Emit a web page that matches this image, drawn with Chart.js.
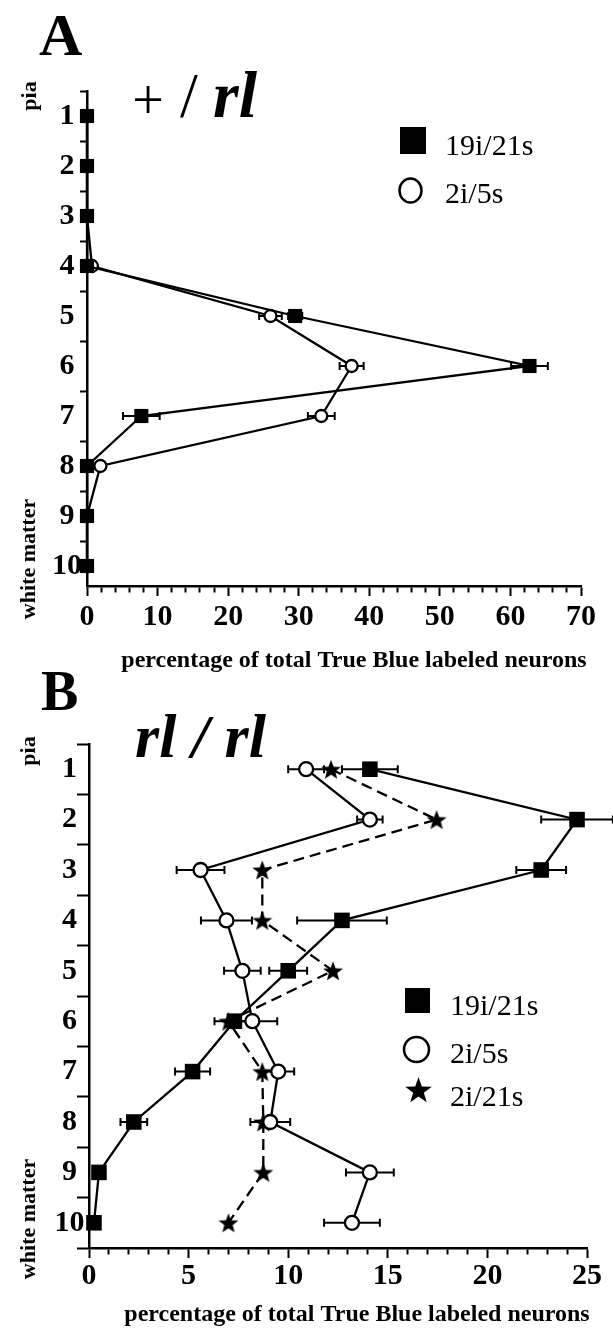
<!DOCTYPE html>
<html>
<head>
<meta charset="utf-8">
<script src="https://cdn.jsdelivr.net/npm/chart.js@4.4.1/dist/chart.umd.min.js"></script>
<style>
  html, body { margin: 0; padding: 0; background: #fff; }
  #wrap { position: relative; width: 613px; height: 1330px; overflow: hidden; }
  canvas { position: absolute; left: 0; }
  #chartA { top: 0; }
  #chartB { top: 660px; }
</style>
</head>
<body>
<div id="wrap">
  <canvas id="chartA" width="613" height="680"></canvas>
  <canvas id="chartB" width="613" height="670"></canvas>
</div>
<script>
// layers from pia (1) down to white matter (10)
const layers = [1, 2, 3, 4, 5, 6, 7, 8, 9, 10];

// panel A  (+/rl)
const aSquare = [0, 0, 0, 0, 29.5, 62.7, 7.7, 0, 0, 0];
const aSquareErr = [0, 0, 0, 0, 1.0, 2.6, 2.6, 0, 0, 0];
const aCircle = [0, 0, 0, 0.7, 26.0, 37.5, 33.2, 1.9, 0, 0];
const aCircleErr = [0, 0, 0, 0, 1.6, 1.7, 1.9, 0, 0, 0];

// panel B  (rl/rl)
const bSquare = [14.1, 24.5, 22.7, 12.7, 10.0, 7.3, 5.2, 2.25, 0.5, 0.25];
const bSquareErr = [1.4, 1.8, 1.25, 2.25, 0.95, 1.0, 0.88, 0.67, 0, 0];
const bCircle = [10.9, 14.1, 5.6, 6.9, 7.7, 8.2, 9.5, 9.1, 14.1, 13.2];
const bCircleErr = [0.9, 0.64, 1.2, 1.28, 0.92, 1.25, 0.8, 1.0, 1.2, 1.4];
const bStar = [12.15, 17.45, 8.7, 8.7, 12.25, 7.0, 8.7, 8.75, 8.75, 7.0];

const seriesNames = ['19i/21s', '2i/5s', '2i/21s'];
const xTitle = 'percentage of total True Blue labeled neurons';

const SERIF = "'Liberation Serif', 'Times New Roman', serif";
const tickFont = { family: SERIF, size: 30, weight: 'bold' };

const pts = (vals) => vals.map((v, i) => ({ x: v, y: layers[i] }));

function starPath(ctx, cx, cy, R, r) {
    ctx.beginPath();
    for (let i = 0; i < 10; i++) {
        const rad = i % 2 ? r : R;
        const a = -Math.PI / 2 + (i * Math.PI) / 5;
        ctx.lineTo(cx + rad * Math.cos(a), cy + rad * Math.sin(a));
    }
    ctx.closePath();
}

// filled five point star used as point style
const starImg = document.createElement('canvas');
starImg.width = 22;
starImg.height = 22;
{
    const c = starImg.getContext('2d');
    c.fillStyle = '#000';
    starPath(c, 11, 12, 10.5, 4.4);
    c.fill();
}

// horizontal error bars, drawn under the markers
const errorBars = {
    id: 'errorBars',
    beforeDatasetsDraw(chart) {
        const { ctx, scales: { x, y } } = chart;
        ctx.save();
        ctx.strokeStyle = '#000';
        ctx.lineWidth = 2;
        chart.data.datasets.forEach((ds) => {
            if (!ds.errors) return;
            ds.data.forEach((p, i) => {
                const e = ds.errors[i];
                if (!e) return;
                const x1 = x.getPixelForValue(p.x - e);
                const x2 = x.getPixelForValue(p.x + e);
                const py = y.getPixelForValue(p.y);
                ctx.beginPath();
                ctx.moveTo(x1, py); ctx.lineTo(x2, py);
                ctx.moveTo(x1, py - 4); ctx.lineTo(x1, py + 4);
                ctx.moveTo(x2, py - 4); ctx.lineTo(x2, py + 4);
                ctx.stroke();
            });
        });
        ctx.restore();
    },
};

// panel letters, genotype, side labels, legend and axis title
function decorPlugin(texts, keys) {
    return {
        id: 'decor',
        afterDraw(chart) {
            const ctx = chart.ctx;
            ctx.save();
            ctx.fillStyle = '#000';
            ctx.strokeStyle = '#000';
            texts.forEach((t) => {
                ctx.save();
                ctx.font = t.font;
                ctx.textAlign = t.align || 'left';
                ctx.textBaseline = t.baseline || 'alphabetic';
                ctx.translate(t.x, t.y);
                if (t.rotate) ctx.rotate(t.rotate);
                ctx.fillText(t.text, 0, 0);
                ctx.restore();
            });
            keys.forEach((k) => {
                if (k.kind === 'rect') {
                    ctx.fillRect(k.x - k.w / 2, k.y - k.h / 2, k.w, k.h);
                } else if (k.kind === 'circle') {
                    ctx.lineWidth = 2.5;
                    ctx.beginPath();
                    ctx.ellipse(k.x, k.y, k.w / 2, k.h / 2, 0, 0, Math.PI * 2);
                    ctx.stroke();
                } else {
                    starPath(ctx, k.x, k.y + 1, k.w / 2, k.w / 5);
                    ctx.fill();
                }
                ctx.font = '30px ' + SERIF;
                ctx.textAlign = 'left';
                ctx.textBaseline = 'alphabetic';
                ctx.fillText(k.label, k.tx, k.ty);
            });
            ctx.restore();
        },
    };
}

function makeChart(id, c) {
    return new Chart(document.getElementById(id), {
        type: 'scatter',
        data: { datasets: c.datasets },
        options: {
            responsive: false,
            animation: false,
            events: [],
            layout: { padding: c.padding },
            plugins: {
                legend: { display: false },
                tooltip: { enabled: false },
            },
            scales: {
                x: {
                    type: 'linear',
                    min: 0,
                    max: c.xMax,
                    border: { color: '#000', width: 2.5 },
                    grid: {
                        drawOnChartArea: false,
                        tickLength: 10,
                        tickWidth: 2,
                        tickColor: '#000',
                        tickBorderDash: (t) =>
                            t.tick && t.tick.value % c.xMajor === 0 ? [] : [5, 40],
                    },
                    ticks: {
                        stepSize: c.xMinor,
                        autoSkip: false,
                        maxRotation: 0,
                        padding: c.xPad,
                        color: '#000',
                        font: tickFont,
                        callback: (v) => (v % c.xMajor === 0 ? v : ''),
                    },
                    afterFit: (s) => { s.height = 54; },
                },
                y: {
                    type: 'linear',
                    reverse: true,
                    min: 0.5,
                    max: c.yMax,
                    border: { color: '#000', width: 2.5 },
                    grid: {
                        drawOnChartArea: false,
                        tickLength: c.yTick,
                        tickWidth: 2,
                        tickColor: (t) =>
                            t.tick && Number.isInteger(t.tick.value) ? 'rgba(0,0,0,0)' : '#000',
                    },
                    ticks: {
                        stepSize: 0.5,
                        includeBounds: false,
                        autoSkip: false,
                        crossAlign: 'center',
                        padding: c.yPad,
                        color: '#000',
                        font: tickFont,
                        callback: (v) => (Number.isInteger(v) ? v : ''),
                    },
                    afterFit: (s) => { s.width = c.yWidth; },
                },
            },
        },
        plugins: [errorBars, decorPlugin(c.texts, c.keys)],
    });
}

const squareStyle = (r) => ({
    showLine: true, borderColor: '#000', borderWidth: 2.3, clip: false,
    pointStyle: 'rect', pointRadius: r, pointBackgroundColor: '#000',
    pointBorderColor: '#000', pointBorderWidth: 0,
});
const circleStyle = (r) => ({
    showLine: true, borderColor: '#000', borderWidth: 2.3, clip: false,
    pointStyle: 'circle', pointRadius: r, pointBackgroundColor: '#fff',
    pointBorderColor: '#000', pointBorderWidth: 2.3,
});

const bold = (s) => 'bold ' + s + 'px ' + SERIF;
const boldItalic = (s) => 'italic bold ' + s + 'px ' + SERIF;
const plain = (s) => s + 'px ' + SERIF;

makeChart('chartA', {
    padding: { left: 22, right: 32, top: 91, bottom: 40 },
    xMax: 70, xMajor: 10, xMinor: 2, xPad: 3,
    yMax: 10.4, yTick: 7, yPad: -2, yWidth: 65,
    datasets: [
        { label: seriesNames[0], data: pts(aSquare), errors: aSquareErr, ...squareStyle(10) },
        { label: seriesNames[1], data: pts(aCircle), errors: aCircleErr, ...circleStyle(6) },
    ],
    texts: [
        { text: 'A', x: 39, y: 55, font: bold(60) },
        { text: '+', x: 148, y: 119, font: plain(56), align: 'center' },
        { text: '/', x: 189, y: 117, font: plain(64), align: 'center' },
        { text: 'rl', x: 213, y: 117, font: boldItalic(66) },
        { text: 'pia', x: 30, y: 96, font: bold(22), align: 'center', baseline: 'middle', rotate: -Math.PI / 2 },
        { text: 'white matter', x: 29, y: 559, font: bold(22), align: 'center', baseline: 'middle', rotate: -Math.PI / 2 },
        { text: xTitle, x: 354, y: 667, font: bold(24), align: 'center' },
    ],
    keys: [
        { kind: 'rect', x: 413, y: 140.5, w: 26, h: 27, label: seriesNames[0], tx: 445, ty: 155 },
        { kind: 'circle', x: 410.5, y: 190.5, w: 22, h: 24, label: seriesNames[1], tx: 445, ty: 203 },
    ],
});

makeChart('chartB', {
    padding: { left: 21, right: 26, top: 84, bottom: 28 },
    xMax: 25, xMajor: 5, xMinor: 1, xPad: 0,
    yMax: 10.5, yTick: 12, yPad: -7.5, yWidth: 68,
    datasets: [
        { label: seriesNames[0], data: pts(bSquare), errors: bSquareErr, ...squareStyle(11) },
        { label: seriesNames[1], data: pts(bCircle), errors: bCircleErr, ...circleStyle(7) },
        {
            label: seriesNames[2], data: pts(bStar), showLine: true, clip: false,
            borderColor: '#000', borderWidth: 2.3, borderDash: [11, 6],
            pointStyle: starImg, pointRadius: 10,
        },
    ],
    texts: [
        { text: 'B', x: 41, y: 50, font: bold(56) },
        { text: 'rl / rl', x: 135, y: 97, font: boldItalic(62) },
        { text: 'pia', x: 29, y: 91, font: bold(22), align: 'center', baseline: 'middle', rotate: -Math.PI / 2 },
        { text: 'white matter', x: 29, y: 559, font: bold(22), align: 'center', baseline: 'middle', rotate: -Math.PI / 2 },
        { text: xTitle, x: 357, y: 661, font: bold(24), align: 'center' },
    ],
    keys: [
        { kind: 'rect', x: 417.5, y: 340.5, w: 25, h: 25, label: seriesNames[0], tx: 450, ty: 355 },
        { kind: 'circle', x: 416.5, y: 389.5, w: 25, h: 25, label: seriesNames[1], tx: 450, ty: 403 },
        { kind: 'star', x: 418.5, y: 430, w: 28, h: 28, label: seriesNames[2], tx: 450, ty: 446 },
    ],
});
</script>
</body>
</html>
